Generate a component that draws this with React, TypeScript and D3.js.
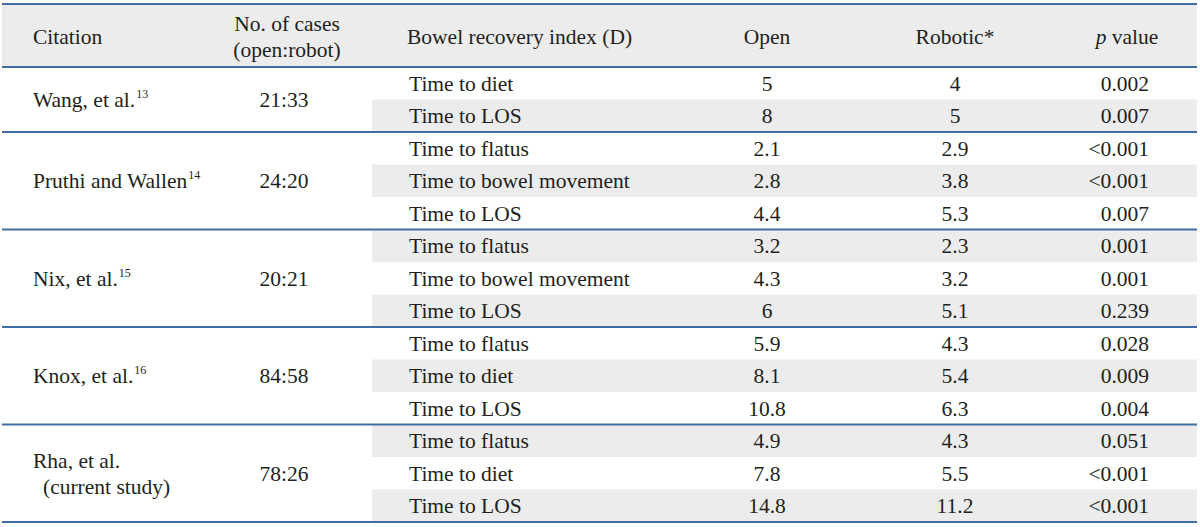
import React, { useEffect, useRef } from "react";
import * as d3 from "d3";

const headers = ["Citation", "No. of cases|(open:robot)", "Bowel recovery index (D)", "Open", "Robotic*", "p value"];
const citations = ["Wang, et al.", "Pruthi and Wallen", "Nix, et al.", "Knox, et al.", "Rha, et al.|(current study)"];
const refs = ["13", "14", "15", "16", ""];
const cases = ["21:33", "24:20", "20:21", "84:58", "78:26"];
const groupSizes = [2, 3, 3, 3, 3];
const indices = [
  "Time to diet", "Time to LOS",
  "Time to flatus", "Time to bowel movement", "Time to LOS",
  "Time to flatus", "Time to bowel movement", "Time to LOS",
  "Time to flatus", "Time to diet", "Time to LOS",
  "Time to flatus", "Time to diet", "Time to LOS",
];
const openVals = ["5", "8", "2.1", "2.8", "4.4", "3.2", "4.3", "6", "5.9", "8.1", "10.8", "4.9", "7.8", "14.8"];
const roboticVals = ["4", "5", "2.9", "3.8", "5.3", "2.3", "3.2", "5.1", "4.3", "5.4", "6.3", "4.3", "5.5", "11.2"];
const pVals = ["0.002", "0.007", "<0.001", "<0.001", "0.007", "0.001", "0.001", "0.239", "0.028", "0.009", "0.004", "0.051", "<0.001", "<0.001"];

export default function App() {
  const ref = useRef<SVGSVGElement>(null);
  useEffect(() => {
    const svg = d3.select(ref.current);
    svg.selectAll("*").remove();
    const FONT = "Liberation Serif";
    const FS = 21.5;
    const TEXT = "#231f20";
    const LINE = "#3f6fa2";
    const GREY = "#ececec";
    const left = 2, right = 1197;
    const headTop = 4, headBottom = 67, bottom = 522;
    const n = indices.length;
    const y = d3.scaleLinear().domain([0, n]).range([headBottom, bottom]);
    const stripeX = 372;

    const g = svg.append("g").style("font-family", FONT).style("font-size", FS + "px").attr("fill", TEXT);

    g.append("rect").attr("x", left).attr("y", headTop).attr("width", right - left).attr("height", headBottom - headTop).attr("fill", GREY);
    indices.forEach((_, i) => {
      if (i % 2 === 1) {
        g.append("rect").attr("x", stripeX).attr("y", y(i)).attr("width", right - stripeX).attr("height", y(i + 1) - y(i)).attr("fill", GREY);
      }
    });

    const hc = (headTop + headBottom) / 2 + 1;
    const dyc = 7.3;
    g.append("text").attr("x", 33).attr("y", hc + dyc).text(headers[0]);
    const h1 = headers[1].split("|");
    g.append("text").attr("x", 287).attr("y", hc - 13 + dyc).attr("text-anchor", "middle").text(h1[0]);
    g.append("text").attr("x", 287).attr("y", hc + 13 + dyc).attr("text-anchor", "middle").text(h1[1]);
    g.append("text").attr("x", 407).attr("y", hc + dyc).text(headers[2]);
    g.append("text").attr("x", 767).attr("y", hc + dyc).attr("text-anchor", "middle").text(headers[3]);
    g.append("text").attr("x", 955).attr("y", hc + dyc).attr("text-anchor", "middle").text(headers[4]);
    const pt = g.append("text").attr("x", 1127).attr("y", hc + dyc).attr("text-anchor", "middle");
    pt.append("tspan").style("font-style", "italic").text("p");
    pt.append("tspan").text(" value");

    indices.forEach((d, i) => {
      const cy = (y(i) + y(i + 1)) / 2 + dyc;
      g.append("text").attr("x", 409).attr("y", cy).text(d);
      g.append("text").attr("x", 767).attr("y", cy).attr("text-anchor", "middle").text(openVals[i]);
      g.append("text").attr("x", 955).attr("y", cy).attr("text-anchor", "middle").text(roboticVals[i]);
      g.append("text").attr("x", 1149).attr("y", cy).attr("text-anchor", "end").text(pVals[i]);
    });

    let start = 0;
    const boundaries: number[] = [];
    citations.forEach((c, gi) => {
      const end = start + groupSizes[gi];
      const cy = (y(start) + y(end)) / 2 + dyc;
      const parts = c.split("|");
      if (parts.length === 1) {
        const t = g.append("text").attr("x", 33).attr("y", cy);
        t.append("tspan").text(parts[0]);
        if (refs[gi]) t.append("tspan").style("font-size", "12px").attr("dy", -9).attr("dx", 1).text(refs[gi]);
      } else {
        g.append("text").attr("x", 33).attr("y", cy - 13).text(parts[0]);
        g.append("text").attr("x", 43).attr("y", cy + 13).text(parts[1]);
      }
      g.append("text").attr("x", 284).attr("y", cy).attr("text-anchor", "middle").text(cases[gi]);
      boundaries.push(end);
      start = end;
    });

    const lineYs = [headTop, headBottom, ...boundaries.map((b) => y(b))];
    lineYs.forEach((ly) => {
      g.append("line").attr("x1", left).attr("x2", right).attr("y1", ly).attr("y2", ly).attr("stroke", LINE).attr("stroke-width", 2);
    });
  }, []);
  return (
    <svg ref={ref} width={1200} height={527} style={{ position: "absolute", left: 0, top: 0, background: "#fff" }} />
  );
}
